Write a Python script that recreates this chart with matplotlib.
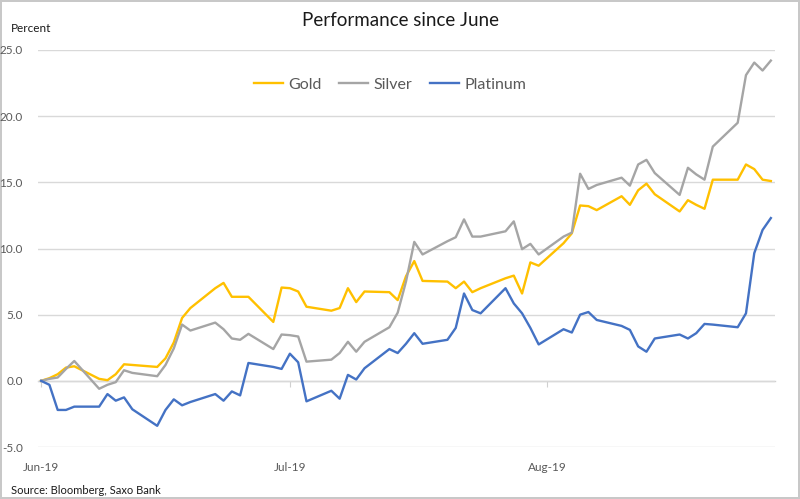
import matplotlib
matplotlib.use("Agg")
import matplotlib.pyplot as plt
import matplotlib.dates as mdates
import pandas as pd
import numpy as np

plt.rcParams['font.family'] = ['Lato', 'DejaVu Sans']

# Trading days, 3 Jun 2019 - 30 Aug 2019
dates = pd.bdate_range("2019-06-03", "2019-08-30")

gold = [0.0, 0.2, 0.5, 1.0, 1.1,
        0.15, 0.05, 0.5, 1.25, 1.2,
        1.05, 1.7, 2.9, 4.75, 5.5,
        7.0, 7.4, 6.35, 6.35, 6.35,
        4.45, 7.05, 7.0, 6.75, 5.6,
        5.3, 5.5, 7.0, 5.95, 6.75,
        6.7, 6.1, 7.9, 9.05, 7.55,
        7.5, 7.0, 7.5, 6.7, 7.0,
        7.75, 7.95, 6.6, 8.95, 8.7,
        10.4, 11.15, 13.25, 13.2, 12.9,
        13.95, 13.3, 14.4, 14.9, 14.1,
        12.8, 13.65, 13.3, 13.0, 15.2,
        15.2, 16.35, 16.0, 15.2, 15.1]

silver = [0.0, 0.15, 0.25, 0.9, 1.5,
          -0.6, -0.3, -0.1, 0.8, 0.6,
          0.35, 1.2, 2.45, 4.25, 3.8,
          4.4, 3.9, 3.2, 3.1, 3.55,
          2.4, 3.5, 3.45, 3.35, 1.45,
          1.6, 2.1, 2.95, 2.2, 2.95,
          4.05, 5.15, 7.5, 10.5, 9.55,
          10.55, 10.85, 12.2, 10.9, 10.9,
          11.3, 12.05, 9.95, 10.35, 9.55,
          10.9, 11.2, 15.65, 14.5, 14.8,
          15.35, 14.75, 16.35, 16.7, 15.7,
          14.05, 16.1, 15.6, 15.2, 17.7,
          19.5, 23.1, 24.05, 23.45, 24.2]

platinum = [0.0, -0.3, -2.2, -2.2, -1.95,
            -1.95, -1.0, -1.5, -1.25, -2.15,
            -3.4, -2.2, -1.4, -1.85, -1.6,
            -1.0, -1.5, -0.8, -1.1, 1.35,
            1.05, 0.9, 2.05, 1.4, -1.55,
            -0.75, -1.35, 0.45, 0.1, 0.95,
            2.4, 2.1, 2.8, 3.6, 2.8,
            3.1, 4.0, 6.6, 5.35, 5.1,
            7.0, 5.85, 5.1, 4.0, 2.75,
            3.9, 3.65, 5.0, 5.2, 4.6,
            4.15, 3.85, 2.6, 2.2, 3.2,
            3.5, 3.2, 3.6, 4.3, 4.25,
            4.05, 5.1, 9.65, 11.4, 12.3]

series_names = ["Gold", "Silver", "Platinum"]
series_colors = ["#FFC000", "#A5A5A5", "#4472C4"]

tick_dates = pd.to_datetime(["2019-06-03", "2019-07-03", "2019-08-03"])
tick_labels = ["Jun-19", "Jul-19", "Aug-19"]
y_ticks = [-5, 0, 5, 10, 15, 20, 25]

fig = plt.figure(figsize=(8, 4.99), dpi=100)
fig.patch.set_facecolor("white")
fig.patch.set_edgecolor("#C8C8C8")
fig.patch.set_linewidth(1.5)

ax = fig.add_axes([38/800, 1-447/499, (775-38)/800, (447-50)/499])

for vals, name, col in zip([gold, silver, platinum], series_names, series_colors):
    ax.plot(dates, vals, color=col, lw=1.7, label=name, solid_joinstyle="round", zorder=3)

start = dates[0]
ax.set_xlim(start - pd.Timedelta(hours=9), start + pd.Timedelta(days=88.5))
ax.set_ylim(-5, 25)
ax.set_yticks(y_ticks)
ax.set_yticklabels([f"{v:.1f}" for v in y_ticks])
ax.grid(axis="y", color="#D9D9D9", lw=1.0, zorder=0)
ax.set_xticks(tick_dates)
ax.set_xticklabels(tick_labels)
for s in ax.spines.values():
    s.set_visible(False)
ax.tick_params(axis="y", length=0, pad=11, labelsize=8.5, labelcolor="#595959")
ax.tick_params(axis="x", length=0, pad=11, labelsize=8.5, labelcolor="#595959")

# horizontal axis line at zero with small tick marks
sec = ax.secondary_xaxis(5/30)
sec.set_xticks(tick_dates)
sec.set_xticklabels([])
sec.tick_params(axis="x", length=4, width=0.8, color="#D0D0D0", direction="out")
sec.spines["bottom"].set_color("#D0D0D0")
sec.spines["bottom"].set_linewidth(1.0)
for k in ["top", "left", "right"]:
    if k in sec.spines:
        sec.spines[k].set_visible(False)

leg = ax.legend(loc="center", bbox_to_anchor=(0.478, 0.912), ncol=3, frameon=False,
                fontsize=11.5, handlelength=1.8, handletextpad=0.35, columnspacing=1.1)
for t in leg.get_texts():
    t.set_color("#595959")

fig.text(0.5, 1-20/499, "Performance since June", ha="center", va="center", fontsize=13.5, color="#1A1A1A")
fig.text(11/800, 1-29/499, "Percent", ha="left", va="center", fontsize=8.5, color="#1A1A1A")
fig.text(11/800, 1-491/499, "Source: Bloomberg, Saxo Bank", ha="left", va="center", fontsize=8, color="#1A1A1A")

fig.savefig("out.png", dpi=100, facecolor=fig.get_facecolor(), edgecolor=fig.get_edgecolor())
